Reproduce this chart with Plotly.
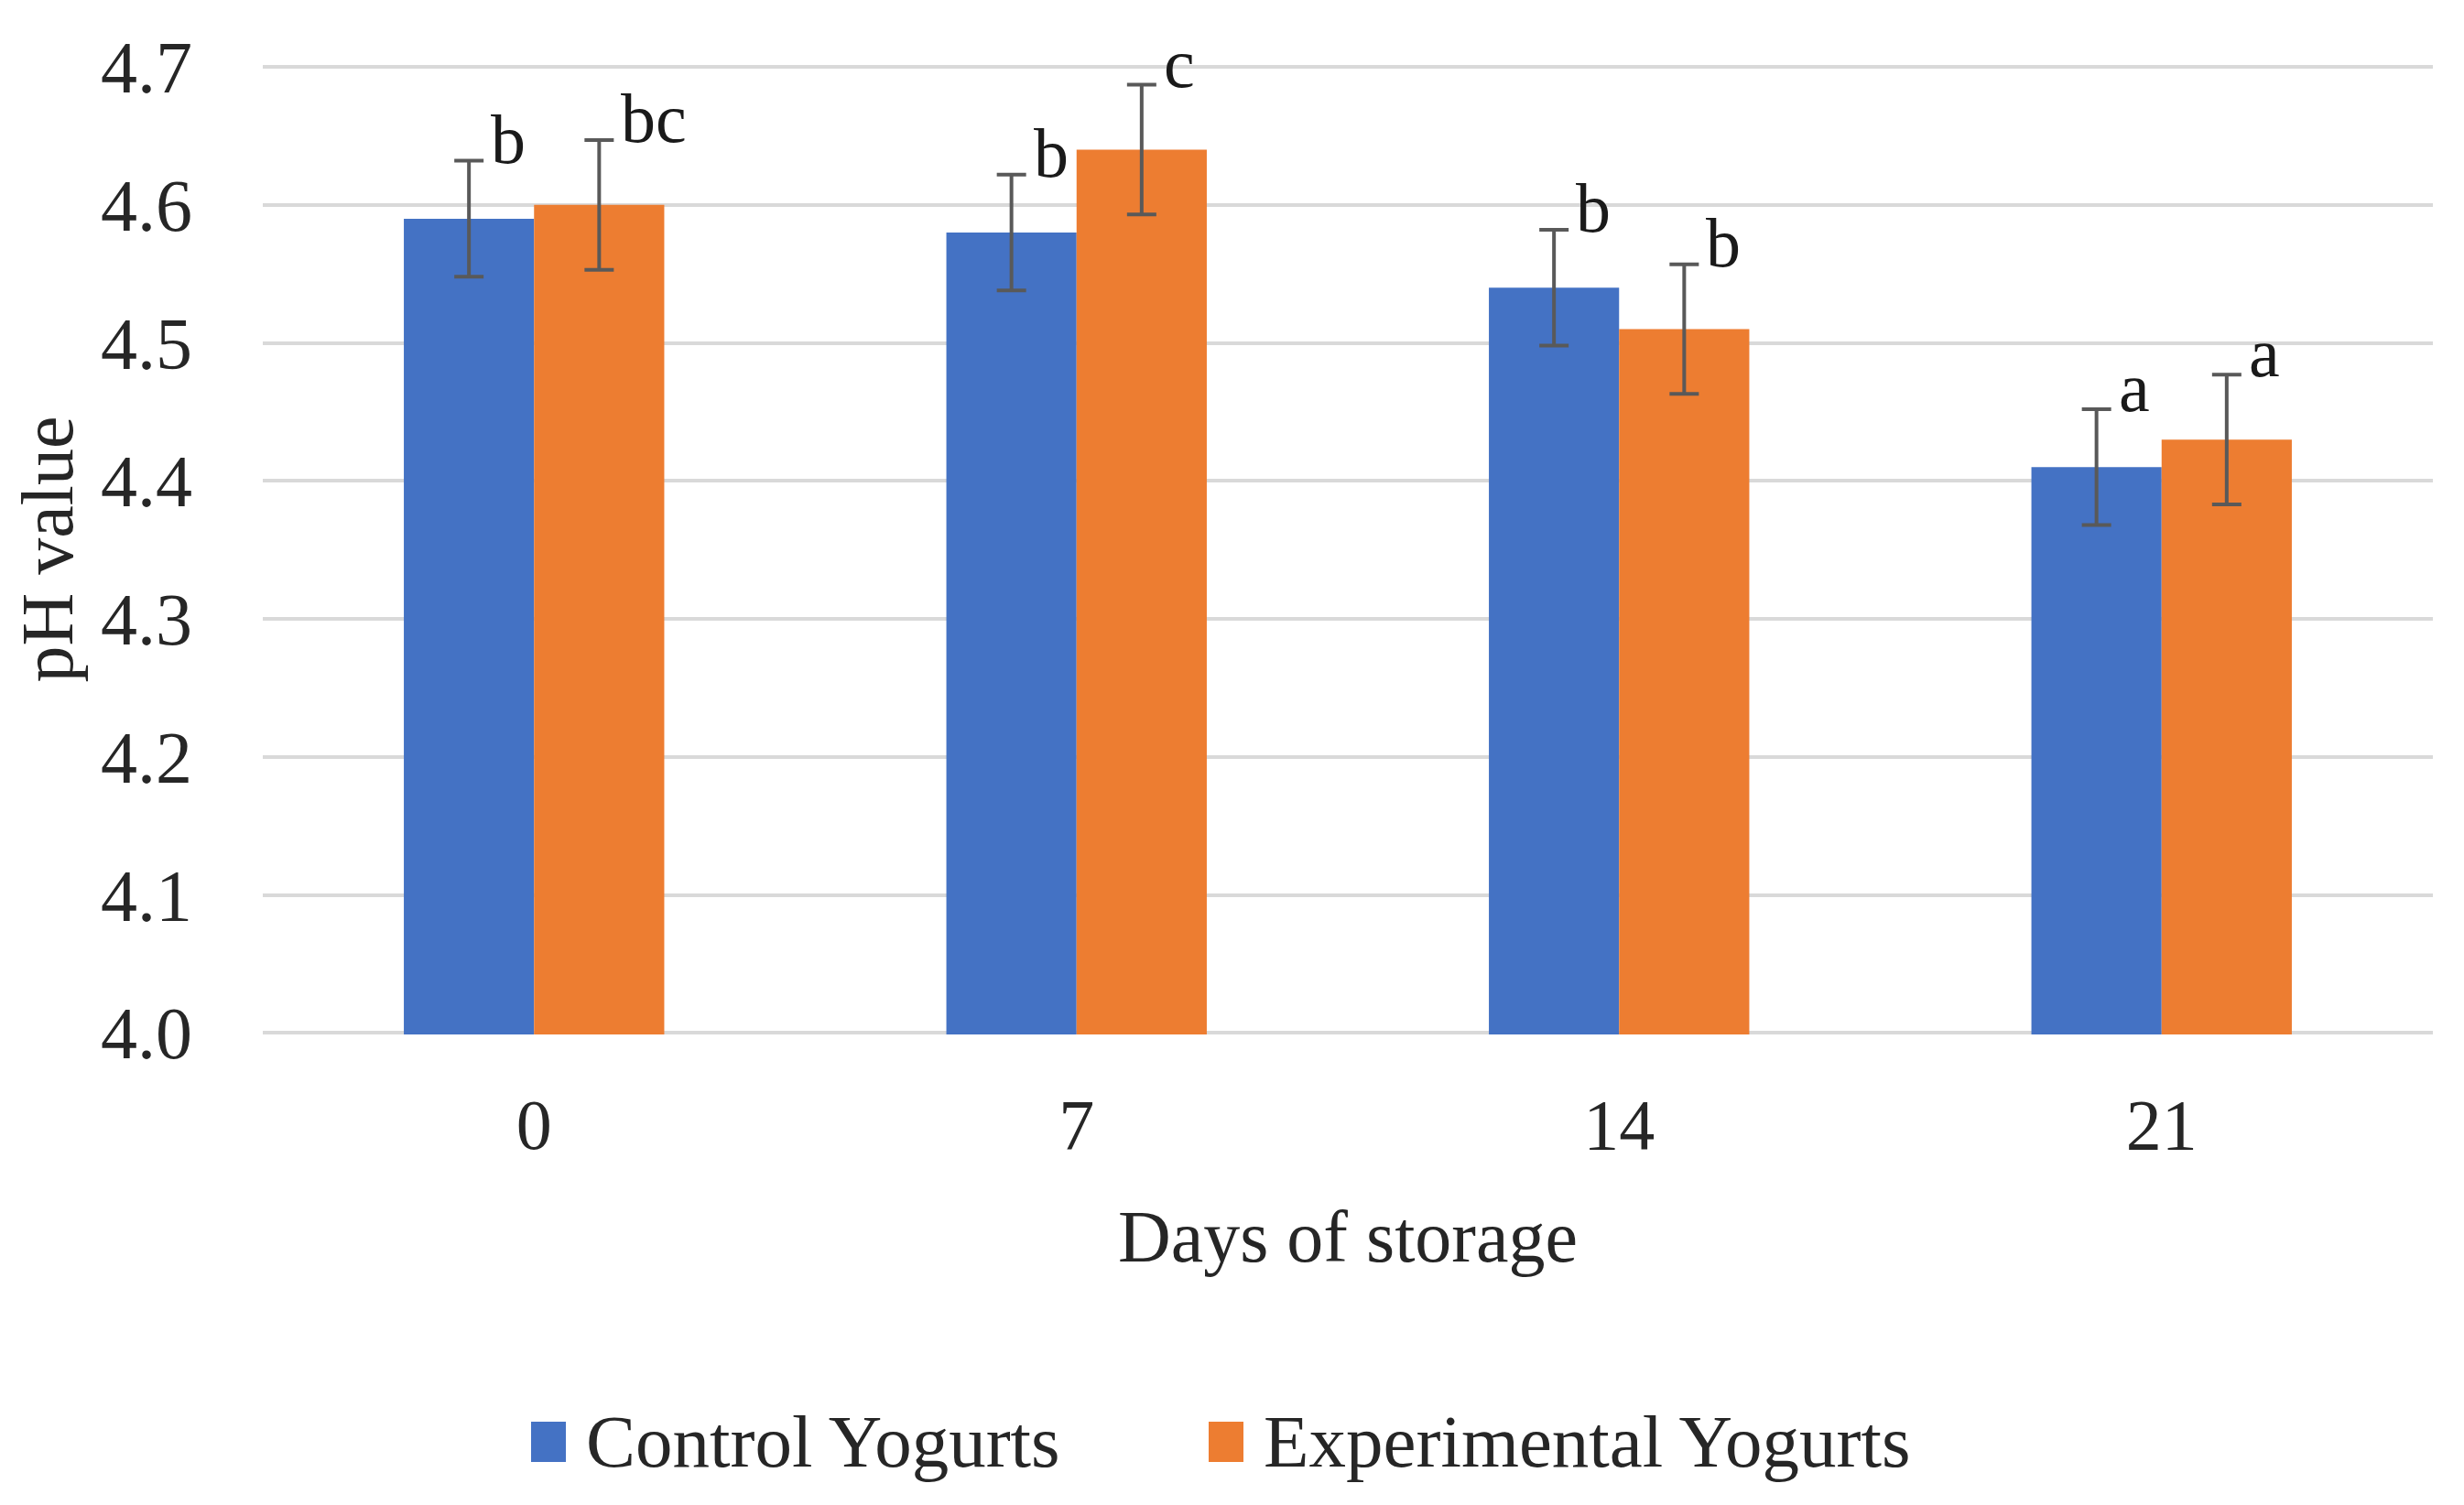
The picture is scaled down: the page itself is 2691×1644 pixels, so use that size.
import plotly.graph_objects as go

days = ["0", "7", "14", "21"]
control = [4.59, 4.58, 4.54, 4.41]
experimental = [4.60, 4.64, 4.51, 4.43]
control_err = [0.042, 0.042, 0.042, 0.042]
experimental_err = [0.047, 0.047, 0.047, 0.047]
control_letters = ["b", "b", "b", "a"]
experimental_letters = ["bc", "c", "b", "a"]
yticks = [4.0, 4.1, 4.2, 4.3, 4.4, 4.5, 4.6, 4.7]
series_names = ["Control Yogurts", "Experimental Yogurts"]

FONT = "Liberation Serif"
TXT = "#262626"
BLUE = "#4472C4"
ORANGE = "#ED7D31"
W, H = 2691, 1644
ml, mr, mt, mb = 279, 42, 62, 522
plot_w = W - ml - mr
plot_h = H - mt - mb
cat_px = plot_w / len(days)
bargap = 0.52
bar_px = cat_px * (1 - bargap) / 2


def px_x(px):
    return (px - ml) / plot_w


def px_y(py):
    return (H - mb - py) / plot_h


fig = go.Figure()
fig.add_trace(go.Bar(
    x=days, y=control, name=series_names[0], showlegend=False,
    marker=dict(color=BLUE, line=dict(width=0)),
    error_y=dict(type="data", array=control_err, visible=True,
                 color="#595959", thickness=4, width=16),
))
fig.add_trace(go.Bar(
    x=days, y=experimental, name=series_names[1], showlegend=False,
    marker=dict(color=ORANGE, line=dict(width=0)),
    error_y=dict(type="data", array=experimental_err, visible=True,
                 color="#595959", thickness=4, width=16),
))

annotations = []
for i, (v, e, t) in enumerate(zip(control, control_err, control_letters)):
    annotations.append(dict(x=i, y=v + e, text=t, showarrow=False,
                            xanchor="left", yanchor="bottom",
                            xshift=-bar_px / 2 + 22, yshift=-20,
                            font=dict(family=FONT, size=76, color="#1a1a1a")))
for i, (v, e, t) in enumerate(zip(experimental, experimental_err, experimental_letters)):
    annotations.append(dict(x=i, y=v + e, text=t, showarrow=False,
                            xanchor="left", yanchor="bottom",
                            xshift=bar_px / 2 + 22, yshift=-20,
                            font=dict(family=FONT, size=76, color="#1a1a1a")))

# legend (swatch + label), drawn as layout decorations
legend_y = 1567
shapes = []
for name, col, sw_left, txt_left in [(series_names[0], BLUE, 572, 630),
                                      (series_names[1], ORANGE, 1312, 1370)]:
    shapes.append(dict(type="rect", xref="paper", yref="paper",
                       x0=px_x(sw_left), x1=px_x(sw_left + 38),
                       y0=px_y(legend_y + 22), y1=px_y(legend_y - 22),
                       fillcolor=col, line=dict(width=0)))
    annotations.append(dict(xref="paper", yref="paper", x=px_x(txt_left), y=px_y(legend_y),
                            xanchor="left", yanchor="middle", text=name, showarrow=False,
                            font=dict(family=FONT, size=81, color=TXT)))

fig.update_layout(
    width=W, height=H,
    margin=dict(l=ml, r=mr, t=mt, b=mb),
    paper_bgcolor="white", plot_bgcolor="white",
    barmode="group", bargap=bargap, bargroupgap=0,
    font=dict(family=FONT, size=76, color=TXT),
    showlegend=False,
    annotations=annotations,
    shapes=shapes,
)
fig.update_xaxes(
    type="category", range=[-0.5, 3.5],
    showgrid=False, showline=False, zeroline=False,
    ticks="", ticklabelstandoff=46,
    tickfont=dict(family=FONT, size=78, color=TXT),
    title=dict(text="Days of storage", standoff=50,
               font=dict(family=FONT, size=80, color=TXT)),
)
fig.update_yaxes(
    range=[3.999, 4.702], tickvals=yticks, tickformat=".1f",
    showgrid=True, gridcolor="#D9D9D9", gridwidth=4,
    zeroline=False, showline=False, ticks="", ticklabelstandoff=76,
    tickfont=dict(family=FONT, size=80, color=TXT),
    title=dict(text="pH value", standoff=8,
               font=dict(family=FONT, size=80, color=TXT)),
)

fig.write_html("out.html")
